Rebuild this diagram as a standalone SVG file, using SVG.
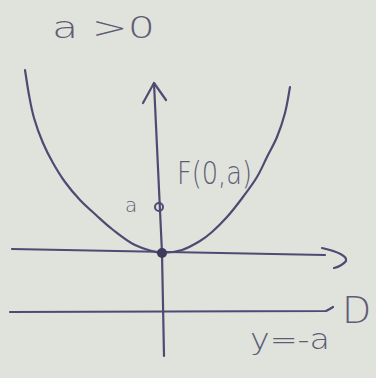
<svg xmlns="http://www.w3.org/2000/svg" width="376" height="378" viewBox="0 0 376 378">
<style>
.ln{fill:none;stroke:#4f4a72;stroke-width:2.2;stroke-linecap:round;stroke-linejoin:round}
.tx{font-family:"DejaVu Sans","Liberation Sans",sans-serif;fill:#5e5c74;font-weight:300}
</style>
<rect x="0" y="0" width="376" height="378" fill="#dfe3dc"/>
<g id="connectors">
<path id="y-axis" class="ln" d="M154,83 L162,253 L164,356"/>
<path id="y-arrow" class="ln" d="M143,103 L154,83 L166,100"/>
<path id="x-axis" class="ln" d="M12,249 L325,255"/>
<path id="x-arrow" class="ln" d="M322,248 Q348,254 346,261 Q342,266 334,268"/>
<path id="directrix" class="ln" d="M10,312 L326,311 Q330,309 333,307"/>
<path id="parabola" class="ln" d="M25,70 C25.7,74.2 27.5,87 29,95 C30.5,103 31.7,110 34,118 C36.3,126 39.8,135.5 43,143 C46.2,150.5 49.3,156.5 53,163 C56.7,169.5 60.5,175.8 65,182 C69.5,188.2 74.8,194.5 80,200 C85.2,205.5 90.7,210.2 96,215 C101.3,219.8 105.5,224 112,229 C118.5,234 126.7,241 135,245 C143.3,249 157.5,253 162,253 C165.3,253 175.7,252 182,250 C188.3,248 195,244 200,241 C205,238 207.5,236 212,232 C216.5,228 221.8,222.8 227,217 C232.2,211.2 238,203.7 243,197 C248,190.3 253,183.7 257,177 C261,170.3 263.7,163.7 267,157 C270.3,150.3 274,144.3 277,137 C280,129.7 282.8,121.3 285,113 C287.2,104.7 289.2,91.3 290,87"/>
</g>
<g id="title"><text class="tx" x="52" y="38" font-size="30" textLength="103" lengthAdjust="spacingAndGlyphs">a &gt;0</text></g>
<g id="vertex"><circle cx="162" cy="253" r="5" fill="#3d3a5c"/></g>
<g id="focus">
<circle cx="159" cy="207" r="4" fill="none" stroke="#4f4a72" stroke-width="2"/>
<text class="tx" x="125" y="212" font-size="20">a</text>
<text class="tx" x="177" y="184" font-size="32" textLength="75" lengthAdjust="spacingAndGlyphs">F(0,a)</text>
</g>
<g id="directrix-label">
<text class="tx" x="342" y="323" font-size="38">D</text>
<text class="tx" x="250" y="349" font-size="28" textLength="80" lengthAdjust="spacingAndGlyphs">y=-a</text>
</g>
</svg>
